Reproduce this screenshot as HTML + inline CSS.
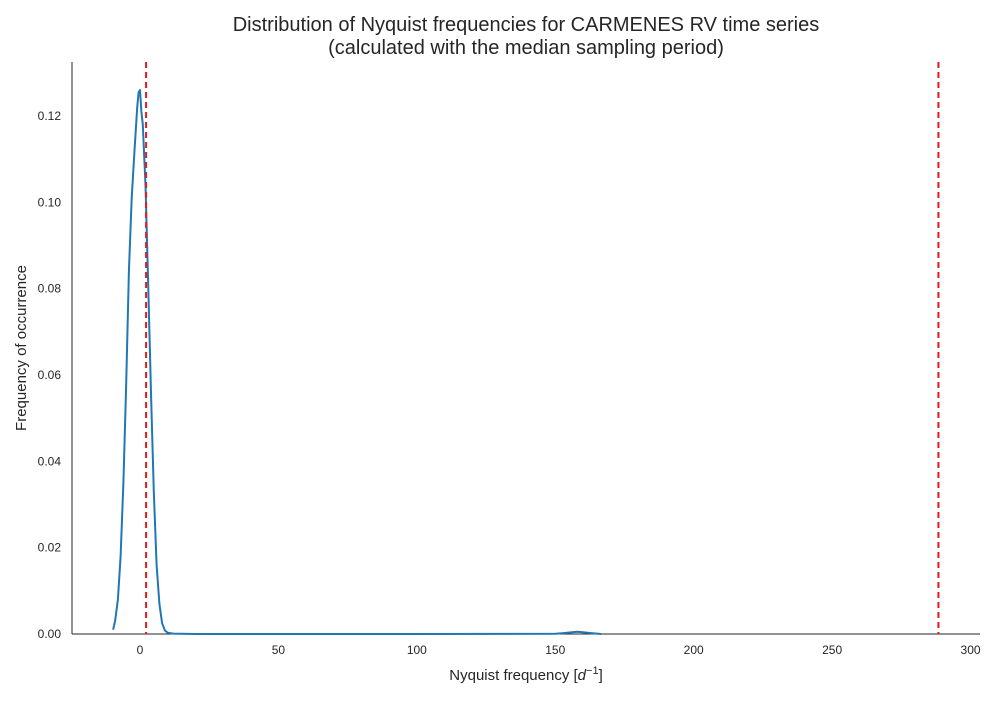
<!DOCTYPE html>
<html><head><meta charset="utf-8"><style>
body{margin:0;background:#fff}
svg text{font-family:"Liberation Sans",sans-serif;fill:#262626}
</style></head><body>
<svg id="chart" width="1000" height="700" xmlns="http://www.w3.org/2000/svg">
<text x="526" y="31" font-size="20" text-anchor="middle">Distribution of Nyquist frequencies for CARMENES RV time series</text>
<text x="526" y="54" font-size="20" text-anchor="middle">(calculated with the median sampling period)</text>
<g id="plot"></g>
<text x="526" y="680" font-size="15" text-anchor="middle">Nyquist frequency [<tspan font-style="italic">d</tspan><tspan font-size="11" dy="-6">−1</tspan><tspan dy="6">]</tspan></text>
<text transform="translate(26,348) rotate(-90)" font-size="15" text-anchor="middle">Frequency of occurrence</text>
</svg>
<script>
const xs=[-9.7,-9,-8,-7,-6,-5,-4,-3,-2,-1,-0.5,0,0.5,1,2,3,4,5,6,7,8,9,10,12,20,50,100,150,153,156,158,160,163,166.5];
const ys=[0.001,0.003,0.008,0.018,0.035,0.058,0.084,0.101,0.112,0.122,0.1255,0.126,0.121,0.118,0.104,0.08,0.055,0.033,0.016,0.007,0.0025,0.0008,0.0003,0.0001,0,0,0,0.00005,0.0002,0.0004,0.0005,0.0004,0.0002,0];
const xTicks=[0,50,100,150,200,250,300];
const yTicks=[0,0.02,0.04,0.06,0.08,0.1,0.12];
const vlines=[2.2,288.4];
const X=v=>140+v*2.7685, Y=v=>634-v*4316.7;
const g=document.getElementById('plot'),NS='http://www.w3.org/2000/svg';
function mk(t,a){const e=document.createElementNS(NS,t);for(const k in a)e.setAttribute(k,a[k]);g.appendChild(e);return e;}
let e=mk('line',{x1:72,y1:62,x2:72,y2:634,stroke:'#262626','stroke-width':1});


e=mk('line',{x1:72,y1:634,x2:980,y2:634,stroke:'#262626','stroke-width':1});


xTicks.forEach(t=>{const el=mk('text',{x:X(t),y:654,'font-size':12,'text-anchor':'middle'});el.textContent=t;

});
yTicks.forEach(t=>{const el=mk('text',{x:61,y:Y(t)+4,'font-size':12,'text-anchor':'end'});el.textContent=t.toFixed(2);

});
const p=mk('path',{d:xs.map((x,i)=>(i?'L':'M')+X(x).toFixed(1)+','+Y(ys[i]).toFixed(1)).join(''),fill:'none',stroke:'#1f77b4','stroke-width':2,'stroke-linejoin':'round'});


vlines.forEach(v=>{const l=mk('line',{x1:X(v),x2:X(v),y1:62,y2:634,stroke:'#e41a1c','stroke-width':2,'stroke-dasharray':'6,4'});

});
</script>
</body></html>
